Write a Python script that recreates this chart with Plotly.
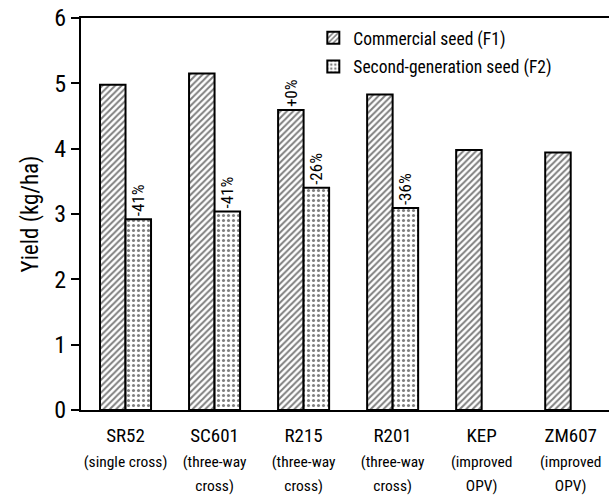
import plotly.graph_objects as go

categories = ["SR52", "SC601", "R215", "R201", "KEP", "ZM607"]
subtitles = ["(single cross)", "(three-way<br>cross)", "(three-way<br>cross)",
             "(three-way<br>cross)", "(improved<br>OPV)", "(improved<br>OPV)"]
f1_values = [4.98, 5.15, 4.59, 4.83, 3.98, 3.94]
f2_values = [2.92, 3.04, 3.40, 3.09, None, None]
f1_labels = ["", "", "+0%", "", "", ""]
f2_labels = ["-41%", "-41%", "-26%", "-36%", "", ""]
y_ticks = [0, 1, 2, 3, 4, 5, 6]

FONT = "Roboto Condensed, Liberation Sans Narrow, sans-serif"

ticktext = [f"{c}<br><span style='font-size:15.5px'>{s}</span>" for c, s in zip(categories, subtitles)]

fig = go.Figure()
fig.add_trace(go.Bar(
    x=categories, y=f1_values, name="Commercial seed (F1)", legendgroup="f1",
    text=f1_labels, textposition="outside", textangle=-90,
    textfont=dict(size=17, color="black", family=FONT),
    cliponaxis=False,
    marker=dict(color="white", line=dict(color="black", width=2),
                pattern=dict(shape="/", fgcolor="black", bgcolor="white", size=4.5, solidity=0.45)),
))
fig.add_trace(go.Bar(
    x=categories, y=f2_values, name="Second-generation seed (F2)", legendgroup="f2",
    text=f2_labels, textposition="outside", textangle=-90,
    textfont=dict(size=17, color="black", family=FONT),
    cliponaxis=False,
    marker=dict(color="white", line=dict(color="black", width=2),
                pattern=dict(shape=".", fgcolor="black", bgcolor="white", size=5, solidity=0.3)),
))

fig.update_layout(
    width=609, height=495,
    margin=dict(l=81, r=0, t=18, b=83),
    paper_bgcolor="white", plot_bgcolor="white",
    barmode="group", bargap=0.427, bargroupgap=0,
    font=dict(family=FONT, color="black"),
    legend=dict(x=0.44, y=0.995, xanchor="left", yanchor="top",
                font=dict(size=17.5, family=FONT), bgcolor="rgba(0,0,0,0)",
                tracegroupgap=3, itemwidth=30),
    xaxis=dict(range=[-0.5, 5.43], showline=True, linecolor="black", linewidth=2,
               mirror=True, ticks="", tickmode="array", tickvals=categories,
               ticktext=ticktext, tickfont=dict(size=19, family=FONT), showgrid=False,
               ticklabelstandoff=7),
    yaxis=dict(range=[0, 6], showline=True, linecolor="black", linewidth=2,
               ticks="outside", ticklen=8, tickwidth=2, tickcolor="black",
               tickvals=y_ticks, tickfont=dict(size=24, family=FONT), showgrid=False,
               zeroline=False,
               title=dict(text="Yield (kg/ha)", font=dict(size=23, family=FONT), standoff=9)),
)
fig.update_traces(constraintext="none")

fig.write_html("out.html", config={"displayModeBar": False},
               post_script="document.body.style.margin='0';")
